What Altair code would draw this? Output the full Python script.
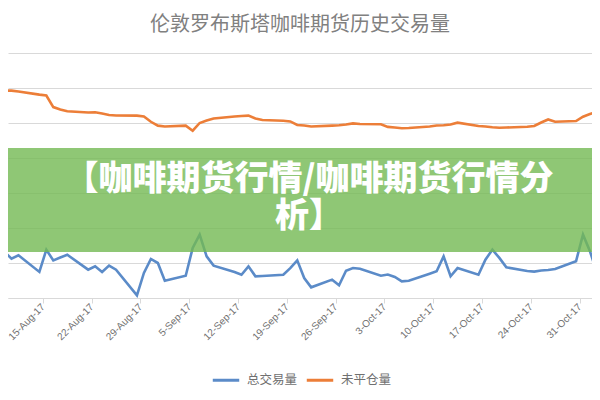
import altair as alt
import pandas as pd

# ---------------- data ----------------
dates = [
    "2017-08-08", "2017-08-09", "2017-08-10", "2017-08-11",
    "2017-08-14", "2017-08-15", "2017-08-16", "2017-08-17", "2017-08-18",
    "2017-08-21", "2017-08-22", "2017-08-23", "2017-08-24", "2017-08-25",
    "2017-08-28", "2017-08-29", "2017-08-30", "2017-08-31", "2017-09-01",
    "2017-09-04", "2017-09-05", "2017-09-06", "2017-09-07", "2017-09-08",
    "2017-09-11", "2017-09-12", "2017-09-13", "2017-09-14", "2017-09-15",
    "2017-09-18", "2017-09-19", "2017-09-20", "2017-09-21", "2017-09-22",
    "2017-09-25", "2017-09-26", "2017-09-27", "2017-09-28", "2017-09-29",
    "2017-10-02", "2017-10-03", "2017-10-04", "2017-10-05", "2017-10-06",
    "2017-10-09", "2017-10-10", "2017-10-11", "2017-10-12", "2017-10-13",
    "2017-10-16", "2017-10-17", "2017-10-18", "2017-10-19", "2017-10-20",
    "2017-10-23", "2017-10-24", "2017-10-25", "2017-10-26", "2017-10-27",
    "2017-10-30", "2017-10-31", "2017-11-01", "2017-11-02", "2017-11-03",
]

total_volume = [
    23400, 26300, 22500, 24400,
    14900, 27600, 21500, 23100, 24700,
    16200, 18100, 14900, 18500, 16200,
    1500, 14300, 22300, 20000, 9900,
    12700, 28600, 36200, 23800, 18500,
    14900, 13300, 18100, 12400, 12600,
    13300, 17100, 21500, 11400, 6100,
    10500, 7300, 15600, 17100, 16700,
    12700, 13400, 12000, 9500, 9900,
    13900, 15300, 23800, 12400, 17100,
    13300, 21900, 27600, 22900, 17500,
    15400, 15100, 15700, 16000, 16600,
    21000, 36200, 26700, 14300, 11400,
]

open_interest = [
    118600, 118500, 118500, 118000,
    116200, 115700, 109100, 107700, 106700,
    106000, 106100, 105400, 104600, 104300,
    104200, 103700, 100700, 98500, 98000,
    98500, 95600, 100000, 101400, 102600,
    103700, 104000, 104200, 102600, 101700,
    101300, 100900, 98900, 98600, 98000,
    98500, 98700, 99100, 99800, 99400,
    99300, 97800, 97400, 97000, 97100,
    98000, 98600, 98700, 99100, 100200,
    98300, 98000, 97600, 97300, 97400,
    97900, 98300, 100300, 102000, 100700,
    101100, 103600, 105100, 106300, 106700,
]

tick_dates = [
    (8, 15), (8, 22), (8, 29), (9, 5), (9, 12), (9, 19),
    (9, 26), (10, 3), (10, 10), (10, 17), (10, 24), (10, 31),
]

series_names = ["总交易量", "未平仓量"]
series_colors = ["#5b8bc8", "#ec7e38"]
y_grid_values = [0, 20000, 40000, 60000, 80000, 100000, 120000, 140000]

chart_title = "伦敦罗布斯塔咖啡期货历史交易量"
banner_line1 = "【咖啡期货行情/咖啡期货行情分"
banner_line2 = "析】"

# ---------------- build table ----------------
rows = []
for d, v in zip(dates, total_volume):
    rows.append({"date": d + "T12:00:00", "series": series_names[0], "value": v})
for d, v in zip(dates, open_interest):
    rows.append({"date": d + "T12:00:00", "series": series_names[1], "value": v})
df = pd.DataFrame(rows)

W, H = 584, 245

x_scale = alt.Scale(
    domain=[
        alt.DateTime(year=2017, month=8, date=10, hours=0),
        alt.DateTime(year=2017, month=11, date=1, hours=19),
    ]
)
x_axis = alt.Axis(
    values=[alt.DateTime(year=2017, month=m, date=d) for m, d in tick_dates],
    format="%-d-%b-%y",
    labelAngle=-45,
    labelAlign="right",
    labelBaseline="middle",
    labelFontSize=10,
    labelFont="Liberation Sans",
    labelColor="#707070",
    labelPadding=2,
    labelOverlap=False,
    labelFlush=False,
    labelBound=False,
    tickColor="#d9d9d9",
    tickSize=5,
    domainColor="#d9d9d9",
    grid=False,
    title=None,
)
y_axis = alt.Axis(
    values=y_grid_values,
    labels=False,
    ticks=False,
    domain=False,
    grid=True,
    gridColor="#d9d9d9",
    gridWidth=1,
    title=None,
)

lines = alt.Chart(df).mark_line(strokeWidth=2.6, clip=True).encode(
    x=alt.X("date:T", scale=x_scale, axis=x_axis),
    y=alt.Y("value:Q", scale=alt.Scale(domain=[0, 140000], nice=False), axis=y_axis),
    color=alt.Color(
        "series:N",
        scale=alt.Scale(domain=series_names, range=series_colors),
        legend=alt.Legend(
            orient="none",
            legendX=203,
            legendY=312,
            padding=0,
            direction="horizontal",
            title=None,
            symbolType="stroke",
            symbolStrokeWidth=3,
            symbolSize=700,
            labelFontSize=12.5,
            labelFont="Noto Sans CJK SC",
            labelColor="#707070",
            labelOffset=6,
            columnPadding=2,
        ),
    ),
)

title_mark = alt.Chart(pd.DataFrame({"t": [chart_title]})).mark_text(
    fontSize=20, font="Noto Sans CJK SC", color="#808080", align="center", baseline="middle"
).encode(text="t:N", x=alt.value(292), y=alt.value(-28))

banner = alt.Chart(pd.DataFrame({"a": [0]})).mark_rect(
    color="#73b953", opacity=0.8
).encode(x=alt.value(0), x2=alt.value(W), y=alt.value(95), y2=alt.value(199))

banner_text1 = alt.Chart(pd.DataFrame({"t": [banner_line1]})).mark_text(
    fontSize=34, font="Noto Sans CJK SC", fontWeight=900, color="white",
    align="center", baseline="middle"
).encode(text="t:N", x=alt.value(301), y=alt.value(127))

banner_text2 = alt.Chart(pd.DataFrame({"t": [banner_line2]})).mark_text(
    fontSize=34, font="Noto Sans CJK SC", fontWeight=900, color="white",
    align="center", baseline="middle"
).encode(text="t:N", x=alt.value(301), y=alt.value(164))

chart = alt.layer(lines, banner, banner_text1, banner_text2, title_mark).properties(
    width=W,
    height=H,
    autosize=alt.AutoSizeParams(type="none"),
    padding={"left": 0, "top": 45, "right": 0, "bottom": 90},
    background="white",
).configure_view(stroke=None)

chart.save("out.html", embed_options={"renderer": "svg", "actions": False})
